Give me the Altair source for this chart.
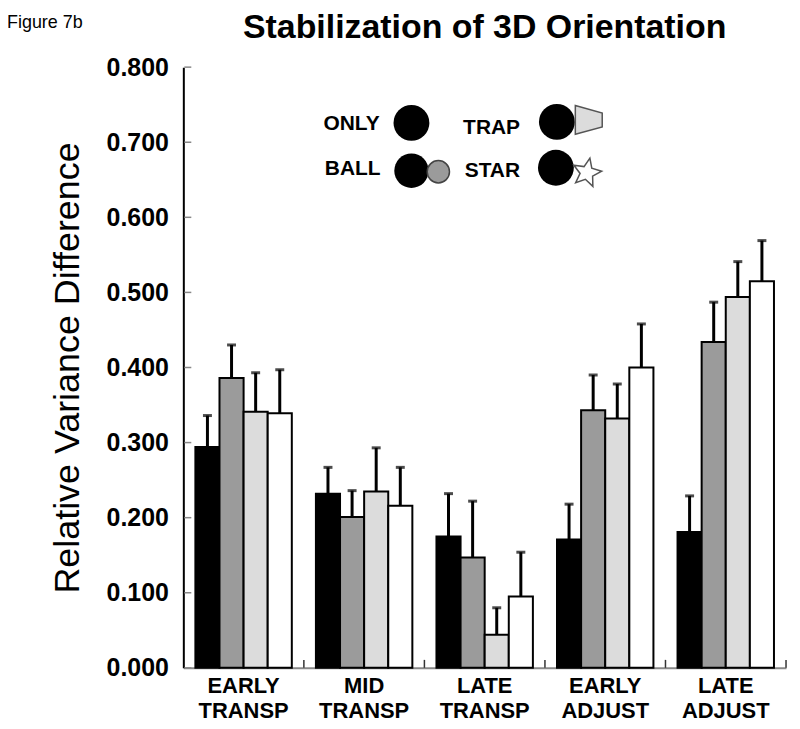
import math
import altair as alt
import pandas as pd

# ---- data ----
categories = ["EARLY TRANSP", "MID TRANSP", "LATE TRANSP", "EARLY ADJUST", "LATE ADJUST"]
conditions = ["ONLY", "BALL", "TRAP", "STAR"]
only_vals = [0.294, 0.232, 0.175, 0.171, 0.181]
ball_vals = [0.386, 0.201, 0.147, 0.343, 0.434]
trap_vals = [0.341, 0.235, 0.044, 0.332, 0.494]
star_vals = [0.339, 0.216, 0.095, 0.400, 0.515]
only_err_top = [0.336, 0.267, 0.232, 0.218, 0.229]
ball_err_top = [0.430, 0.236, 0.222, 0.390, 0.487]
trap_err_top = [0.393, 0.293, 0.080, 0.378, 0.541]
star_err_top = [0.397, 0.267, 0.154, 0.458, 0.569]
y_ticks = [0.0, 0.1, 0.2, 0.3, 0.4, 0.5, 0.6, 0.7, 0.8]
legend_labels = ["ONLY", "BALL", "TRAP", "STAR"]
title_text = "Stabilization of 3D Orientation"
figure_label = "Figure 7b"

vals = {"ONLY": only_vals, "BALL": ball_vals, "TRAP": trap_vals, "STAR": star_vals}
tops = {"ONLY": only_err_top, "BALL": ball_err_top, "TRAP": trap_err_top, "STAR": star_err_top}
rows = []
for c in conditions:
    for i, cat in enumerate(categories):
        rows.append({"category": cat, "condition": c, "value": vals[c][i], "err_top": tops[c][i]})
df = pd.DataFrame(rows)

FONT = "Liberation Sans"
W, H = 605, 603

x_enc = alt.X("category:N", sort=categories,
              scale=alt.Scale(paddingInner=0, paddingOuter=0),
              axis=alt.Axis(title=None, labelAngle=0, ticks=False,
                            labelExpr="split(datum.label, ' ')",
                            labelFont=FONT, labelFontSize=22, labelFontWeight="bold",
                            labelColor="black", labelLineHeight=25, labelPadding=8,
                            domainColor="#888888", domainWidth=2))
xo_enc = alt.XOffset("condition:N", sort=conditions,
                     scale=alt.Scale(paddingInner=0, paddingOuter=0.5))
y_enc = alt.Y("value:Q", scale=alt.Scale(domain=[0, 0.8], nice=False),
              axis=alt.Axis(title="Relative Variance Difference", values=y_ticks,
                            format=".3f", ticks=False, grid=False,
                            labelFont=FONT, labelFontSize=25, labelFontWeight="bold",
                            labelColor="black", labelPadding=15,
                            titleFont=FONT, titleFontSize=36, titleFontWeight="normal",
                            titleColor="black", titlePadding=20,
                            domainColor="black", domainWidth=2))

base = alt.Chart(df)
bars = base.mark_bar(stroke="black", strokeWidth=2).encode(
    x=x_enc, xOffset=xo_enc, y=y_enc,
    color=alt.Color("condition:N", sort=conditions, legend=None,
                    scale=alt.Scale(domain=conditions,
                                    range=["#000000", "#9b9b9b", "#dcdcdc", "#ffffff"])),
)
err_lines = base.mark_rule(color="black", strokeWidth=3).encode(
    x=alt.X("category:N", sort=categories), xOffset=alt.XOffset("condition:N", sort=conditions),
    y="value:Q", y2="err_top:Q")
err_caps = base.mark_tick(color="black", thickness=3, size=9).encode(
    x=alt.X("category:N", sort=categories), xOffset=alt.XOffset("condition:N", sort=conditions),
    y="err_top:Q")

# inward tick marks
cat_df = pd.DataFrame({"category": categories})
x_ticks = alt.Chart(cat_df).mark_rule(color="#333333", strokeWidth=1.5).encode(
    x=alt.X("category:N", sort=categories, bandPosition=1),
    y=alt.value(H - 8), y2=alt.value(H))
ytick_df = pd.DataFrame({"t": y_ticks})
y_tick_marks = alt.Chart(ytick_df).mark_rule(color="#888888", strokeWidth=1.5).encode(
    y="t:Q", x=alt.value(1), x2=alt.value(8))

one = pd.DataFrame({"k": [0]})

def txt(s, x, y, size=21, weight="bold", align="right", baseline="middle"):
    return alt.Chart(one).mark_text(font=FONT, fontSize=size, fontWeight=weight,
                                    align=align, baseline=baseline, color="black").encode(
        x=alt.value(x), y=alt.value(y), text=alt.value(s))

def sym(shape, x, y, size, fill, stroke="black", sw=1):
    return alt.Chart(one).mark_point(shape=shape, filled=True, fill=fill, stroke=stroke,
                                     strokeWidth=sw, opacity=1).encode(
        x=alt.value(x), y=alt.value(y), size=alt.value(size))

# star path
pts = []
for k in range(10):
    r = 1.0 if k % 2 == 0 else 0.45
    a = math.radians(-90 + 12 + k * 36)
    pts.append(f"{r*math.cos(a):.3f} {r*math.sin(a):.3f}")
star_path = "M " + " L ".join(pts) + " Z"
trap_path = "M -1 -1.07 L 1 -0.52 L 1 0.52 L -1 1.07 Z"

legend = [
    txt(legend_labels[0], 197, 57),
    txt(legend_labels[1], 198, 102),
    txt(legend_labels[2], 338, 61),
    txt(legend_labels[3], 338, 104),
    sym("circle", 229, 56, 1296, "black", "black", 0),
    sym("circle", 229, 104, 1190, "black", "black", 0),
    sym("circle", 256, 105, 500, "#9b9b9b", "#444444", 1.5),
    sym("circle", 375, 55, 1296, "black", "black", 0),
    sym(trap_path, 407, 53, 729, "#dcdcdc", "#555555", 1.5),
    sym("circle", 374, 101, 1296, "black", "black", 0),
    sym(star_path, 405, 106, 900, "white", "#555555", 1.5),
]

title_mark = txt(title_text, W / 2, -29.5, size=34, weight="bold", align="center",
                 baseline="alphabetic")
fig_label = txt(figure_label, -177, -39, size=18, weight="normal", align="left",
                baseline="alphabetic")

chart = alt.layer(bars, err_lines, err_caps, x_ticks, y_tick_marks,
                  title_mark, fig_label, *legend).properties(
    width=W, height=H,
    autosize=alt.AutoSizeParams(type="none"),
    padding={"left": 176, "top": 58, "right": 6, "bottom": 55},
).configure_view(stroke=None)

chart.save("out.html", embed_options={"renderer": "svg", "actions": False})
